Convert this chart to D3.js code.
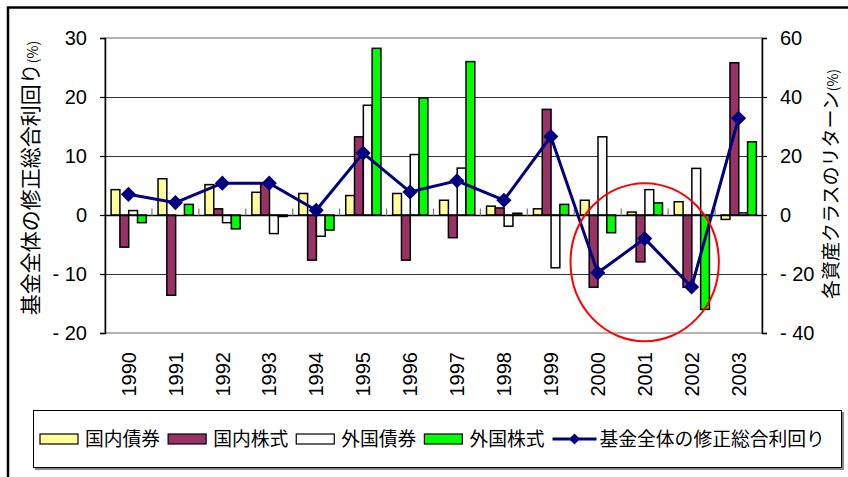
<!DOCTYPE html>
<html>
<head>
<meta charset="utf-8">
<script src="https://cdn.jsdelivr.net/npm/d3@7"></script>
<style>
  body { margin: 0; background: #fff; }
  svg text { font-family: "Liberation Sans", Arial, "Noto Sans CJK JP", sans-serif; fill: #000; }
  .jp { font-family: "Noto Sans CJK JP", "Liberation Sans", sans-serif; }
</style>
</head>
<body>
<div id="chart"></div>
<script>
// data
const years = ["1990", "1991", "1992", "1993", "1994", "1995", "1996", "1997", "1998", "1999", "2000", "2001", "2002", "2003"];
const seriesNames = ["国内債券", "国内株式", "外国債券", "外国株式"];
const lineName = "基金全体の修正総合利回り";
const domesticBonds = [8.6, 12.3, 10.3, 7.7, 7.3, 6.6, 7.3, 5.0, 3.0, 2.1, 5.0, 1.0, 4.5, -1.5];
const domesticStocks = [-10.9, -27.2, 2.1, 10.7, -15.3, 26.5, -15.3, -7.7, 2.4, 35.8, -24.5, -15.9, -24.5, 51.6];
const foreignBonds = [1.5, 0, -2.6, -6.3, -7.2, 37.2, 20.5, 15.9, -3.8, -17.9, 26.5, 8.6, 15.8, 0.7];
const foreignStocks = [-2.6, 3.6, -4.7, -0.5, -5.1, 56.5, 39.7, 52.0, 0.6, 3.6, -6.0, 4.1, -32.0, 24.8];
const fundReturn = [3.5, 2.1, 5.4, 5.4, 0.8, 10.5, 3.9, 5.8, 2.5, 13.3, -9.8, -4.0, -12.2, 16.4];
const leftTicks = [-20, -10, 0, 10, 20, 30];
const rightTicks = [-40, -20, 0, 20, 40, 60];

const colors = ["#FFFF99", "#993366", "#FFFFFF", "#00FF00"];
const lineColor = "#000080";

const W = 848, H = 477;
const plot = { left: 105, right: 762, top: 38, bottom: 333 };

const svg = d3.select("#chart").append("svg")
    .attr("width", W)
    .attr("height", H);

// outer chart frame (only top and left edges are visible)
svg.append("path")
    .attr("d", "M8,477 V7.5 H848")
    .attr("fill", "none")
    .attr("stroke", "#000")
    .attr("stroke-width", 2.5);

const x = d3.scaleBand()
    .domain(years)
    .range([plot.left, plot.right])
    .padding(0);

const x1 = d3.scaleBand()
    .domain(d3.range(4))
    .range([x.bandwidth() * 0.13, x.bandwidth() * 0.88]);

const yL = d3.scaleLinear().domain([-20, 30]).range([plot.bottom, plot.top]);
const yR = d3.scaleLinear().domain([-40, 60]).range([plot.bottom, plot.top]);

// plot area
svg.append("rect")
    .attr("x", plot.left)
    .attr("y", plot.top)
    .attr("width", plot.right - plot.left)
    .attr("height", plot.bottom - plot.top)
    .attr("fill", "#fff")
    .attr("stroke", "#808080")
    .attr("stroke-width", 1.2);

// gridlines
svg.append("g")
    .selectAll("line")
    .data([-10, 10, 20])
  .enter().append("line")
    .attr("x1", plot.left)
    .attr("x2", plot.right)
    .attr("y1", d => Math.round(yL(d)) + 0.5)
    .attr("y2", d => Math.round(yL(d)) + 0.5)
    .attr("stroke", "#333")
    .attr("stroke-width", 1);

// axes
const fmt = d => d < 0 ? "- " + Math.abs(d) : String(d);

const leftAxis = svg.append("g")
    .attr("transform", "translate(" + plot.left + ",0)")
    .call(d3.axisLeft(yL).tickValues(leftTicks).tickSize(5).tickPadding(13).tickFormat(fmt));

const rightAxis = svg.append("g")
    .attr("transform", "translate(" + plot.right + ",0)")
    .call(d3.axisRight(yR).tickValues(rightTicks).tickSize(5).tickPadding(13).tickFormat(fmt));

[leftAxis, rightAxis].forEach(a => {
    a.select(".domain").attr("stroke", "#000").attr("stroke-width", 1.5);
    a.selectAll(".tick line").attr("stroke", "#000").attr("stroke-width", 1.2);
    a.selectAll(".tick text")
        .style("font-family", "'Liberation Sans', Arial, sans-serif")
        .style("font-size", "20px");
});

// bars (right axis)
const seriesValues = [domesticBonds, domesticStocks, foreignBonds, foreignStocks];
const barData = [];
years.forEach((yr, i) => {
    seriesValues.forEach((vals, s) => {
        barData.push({ year: yr, s: s, v: vals[i] });
    });
});

svg.append("g")
    .selectAll("rect")
    .data(barData.filter(d => d.v !== 0))
  .enter().append("rect")
    .attr("x", d => x(d.year) + x1(d.s))
    .attr("y", d => Math.min(yR(d.v), yR(0)))
    .attr("width", x1.bandwidth())
    .attr("height", d => Math.abs(yR(d.v) - yR(0)))
    .attr("fill", d => colors[d.s])
    .attr("stroke", "#000")
    .attr("stroke-width", 1.5);

// category axis at zero
const y0 = Math.round(yR(0)) + 0.5;
svg.append("line")
    .attr("x1", plot.left)
    .attr("x2", plot.right)
    .attr("y1", y0)
    .attr("y2", y0)
    .attr("stroke", "#000")
    .attr("stroke-width", 1.5);

svg.append("g")
    .selectAll("line")
    .data(years.slice(1))
  .enter().append("line")
    .attr("x1", d => x(d))
    .attr("x2", d => x(d))
    .attr("y1", y0 - 7)
    .attr("y2", y0)
    .attr("stroke", "#777")
    .attr("stroke-width", 1.2);

// year labels, rotated
svg.append("g")
    .selectAll("text")
    .data(years)
  .enter().append("text")
    .attr("transform", d => "translate(" + (x(d) + x.bandwidth() / 2) + "," + 352 + ") rotate(-90)")
    .attr("text-anchor", "end")
    .attr("dy", "0.36em")
    .style("font-size", "20px")
    .text(d => d);

// fund return line (left axis)
const cx = d => x(d) + x.bandwidth() / 2;
const line = d3.line()
    .x((d, i) => cx(years[i]))
    .y(d => yL(d));

svg.append("path")
    .datum(fundReturn)
    .attr("fill", "none")
    .attr("stroke", lineColor)
    .attr("stroke-width", 3)
    .attr("d", line);

const diamond = d3.symbol().type(d3.symbolSquare).size(115);

svg.append("g")
    .selectAll("path")
    .data(fundReturn)
  .enter().append("path")
    .attr("transform", (d, i) => "translate(" + cx(years[i]) + "," + yL(d) + ") rotate(45)")
    .attr("d", diamond)
    .attr("fill", lineColor);

// red circle around 2000-2002
svg.append("ellipse")
    .attr("cx", cx("2001"))
    .attr("cy", yL(-8))
    .attr("rx", x.bandwidth() * 1.58)
    .attr("ry", yL(-8) - yL(5.4))
    .attr("fill", "none")
    .attr("stroke", "#FF0000")
    .attr("stroke-width", 2);

// axis titles
svg.append("text")
    .attr("class", "jp")
    .attr("transform", "translate(30,178) rotate(-90)")
    .attr("text-anchor", "middle")
    .attr("dy", "0.36em")
    .style("font-size", "21px")
    .text("基金全体の修正総合利回り")
  .append("tspan")
    .style("font-size", "14px")
    .text("(%)");

svg.append("text")
    .attr("class", "jp")
    .attr("transform", "translate(831,184) rotate(-90)")
    .attr("text-anchor", "middle")
    .attr("dy", "0.36em")
    .style("font-size", "19px")
    .text("各資産クラスのリターン")
  .append("tspan")
    .style("font-size", "14px")
    .text("(%)");

// legend
const legend = svg.append("g");
legend.append("rect")
    .attr("x", 35)
    .attr("y", 412)
    .attr("width", 809)
    .attr("height", 58)
    .attr("fill", "#888");
legend.append("rect")
    .attr("x", 33.5)
    .attr("y", 410.5)
    .attr("width", 808)
    .attr("height", 57)
    .attr("fill", "#fff")
    .attr("stroke", "#000")
    .attr("stroke-width", 1);

const legendItems = seriesNames.map((n, i) => ({ name: n, color: colors[i], kind: "bar" }))
    .concat([{ name: lineName, color: lineColor, kind: "line" }]);

let lx = 40;
const ly = 439;
legendItems.forEach(item => {
    if (item.kind === "bar") {
        legend.append("rect")
            .attr("x", lx)
            .attr("y", ly - 5)
            .attr("width", 38)
            .attr("height", 10)
            .attr("fill", item.color)
            .attr("stroke", "#000")
            .attr("stroke-width", 1.2);
        lx += 45;
    } else {
        legend.append("line")
            .attr("x1", lx)
            .attr("x2", lx + 44)
            .attr("y1", ly)
            .attr("y2", ly)
            .attr("stroke", item.color)
            .attr("stroke-width", 3);
        legend.append("path")
            .attr("transform", "translate(" + (lx + 22) + "," + ly + ") rotate(45)")
            .attr("d", d3.symbol().type(d3.symbolSquare).size(60))
            .attr("fill", item.color);
        lx += 47;
    }
    const t = legend.append("text")
        .attr("class", "jp")
        .attr("x", lx)
        .attr("y", ly)
        .attr("dy", "0.36em")
        .style("font-size", "18.8px")
        .text(item.name);
    lx += t.node().getComputedTextLength() + 8;
});
</script>
</body>
</html>
